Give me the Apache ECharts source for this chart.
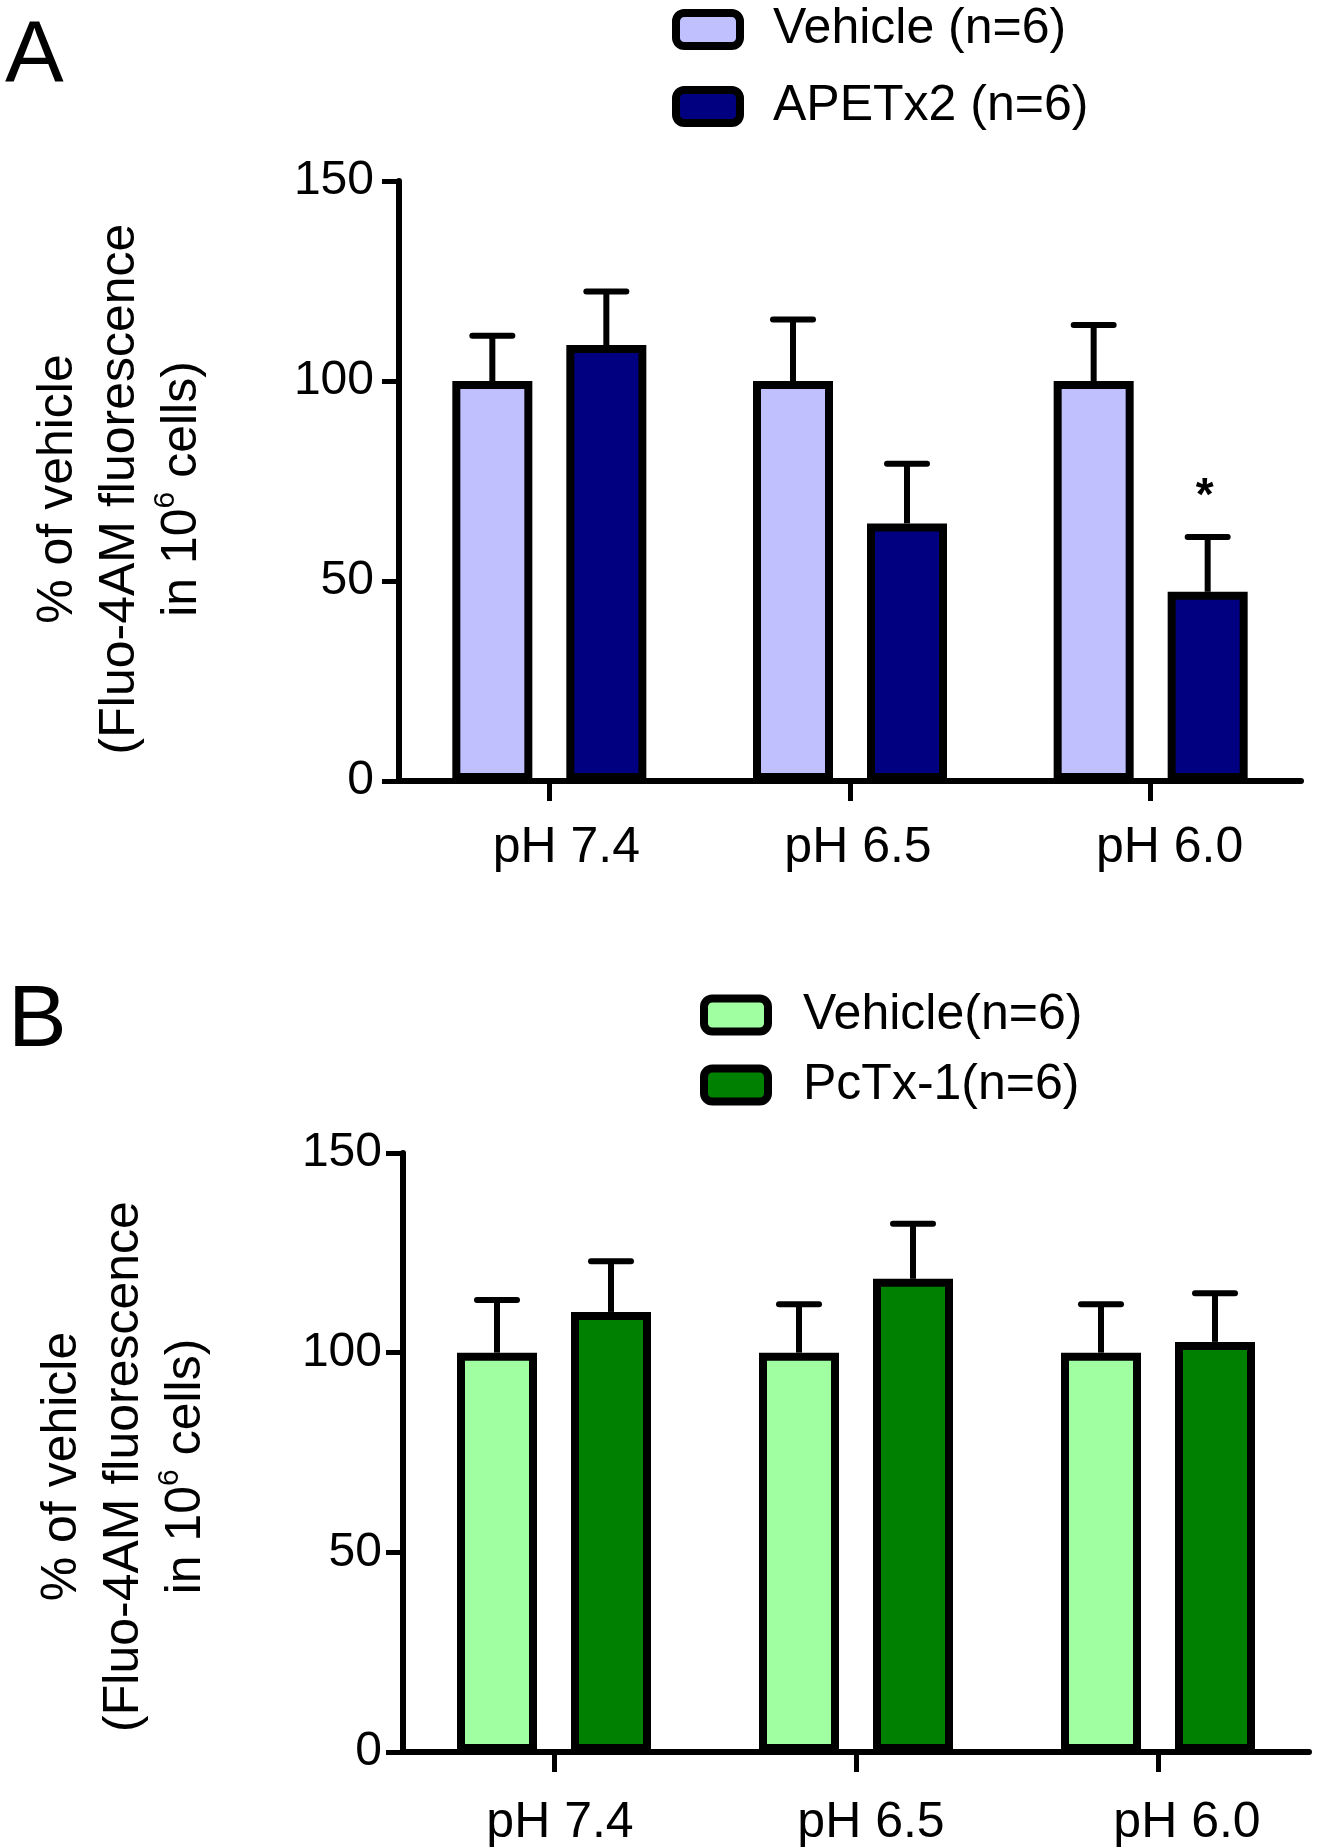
<!DOCTYPE html>
<html>
<head>
<meta charset="utf-8">
<script src="https://cdn.jsdelivr.net/npm/echarts@6/dist/echarts.min.js"></script>
<style>
html,body{margin:0;padding:0;background:#fff;}
#chart{width:1318px;height:1848px;}
</style>
</head>
<body>
<div id="chart"></div>
<script>
// ---------- data ----------
const categories = ['pH 7.4', 'pH 6.5', 'pH 6.0'];
const yTicks = [0, 50, 100, 150];

// Panel A
const aVehicleName = 'Vehicle (n=6)';
const aDrugName = 'APETx2 (n=6)';
const aVehicleMean = [100, 100, 100];
const aVehicleErr = [11.3, 15.4, 14.0];
const aDrugMean = [109.0, 64.4, 47.3];
const aDrugErr = [13.4, 14.9, 13.7];
const aDrugSig = ['', '', '*'];

// Panel B
const bVehicleName = 'Vehicle(n=6)';
const bDrugName = 'PcTx-1(n=6)';
const bVehicleMean = [100, 100, 100];
const bVehicleErr = [13.2, 12.1, 12.1];
const bDrugMean = [110.2, 118.5, 102.7];
const bDrugErr = [12.7, 13.8, 12.2];
const bDrugSig = ['', '', ''];

// ---------- styles ----------
const FONT = "'Liberation Sans', Arial, sans-serif";
const BAR_W = 80;
const BAR_GAP = 0.425;
const OFFSET = BAR_W * (1 + BAR_GAP) / 2;
const CAP_HALF = 20;
const LABEL_SHIFT_A = [17, 8, 19];   // px shift of tick labels (style)
const LABEL_SHIFT_B = [6, 15, 29];

const chart = echarts.init(document.getElementById('chart'), null, {renderer: 'canvas'});

function errorSeries(name, means, errs, sigs, side, gi) {
  return {
    type: 'custom',
    name: name + ' SEM',
    xAxisIndex: gi, yAxisIndex: gi,
    z: 1,
    silent: true,
    data: means.map((m, i) => [i, m, errs[i]]),
    renderItem: function (params, api) {
      const i = api.value(0), m = api.value(1), e = api.value(2);
      const base = api.coord([i, m]);
      const top = api.coord([i, m + e]);
      const x = base[0] + side * OFFSET;
      const children = [
        {type: 'line', shape: {x1: x, y1: base[1], x2: x, y2: top[1]},
         style: {stroke: '#000', lineWidth: 6}},
        {type: 'line', shape: {x1: x - CAP_HALF, y1: top[1], x2: x + CAP_HALF, y2: top[1]},
         style: {stroke: '#000', lineWidth: 6, lineCap: 'round'}}
      ];
      const s = sigs[params.dataIndex];
      if (s) {
        children.push({type: 'text', style: {text: s, x: x - 3, y: top[1] - 40,
          align: 'center', verticalAlign: 'middle', font: 'bold 46px ' + FONT, fill: '#000'}});
      }
      return {type: 'group', children: children};
    }
  };
}

function barSeries(name, means, color, gi) {
  return {
    type: 'bar', name: name, xAxisIndex: gi, yAxisIndex: gi,
    data: means, barWidth: BAR_W, barGap: (BAR_GAP * 100) + '%',
    z: 2,
    itemStyle: {color: color, borderColor: '#000', borderWidth: 8}
  };
}

function xAxisCfg(gi, margin, shifts) {
  return {
    type: 'category', gridIndex: gi,
    data: categories.map((c, i) => ({value: c, textStyle: {padding: [0, 0, 0, 2 * shifts[i]]}})),
    axisLine: {lineStyle: {color: '#000', width: 6}},
    axisTick: {show: true, alignWithLabel: true, length: 20, lineStyle: {color: '#000', width: 5}},
    axisLabel: {color: '#000', fontSize: 50, fontFamily: FONT, margin: margin}
  };
}

function yAxisCfg(gi, shiftDown, labelMargin) {
  return {
    type: 'value', gridIndex: gi, min: yTicks[0], max: yTicks[yTicks.length - 1],
    interval: yTicks[1] - yTicks[0],
    splitLine: {show: false},
    axisLine: {show: true, lineStyle: {color: '#000', width: 6}},
    axisTick: {show: true, length: 17, lineStyle: {color: '#000', width: 5}},
    axisLabel: {color: '#000', fontSize: 48, fontFamily: FONT, margin: labelMargin},
    name: '% of vehicle\n(Fluo-4AM fluorescence\nin 10{sup|6} cells)',
    nameLocation: 'middle', nameRotate: 90, nameGap: 186,
    nameTextStyle: {
      color: '#000', fontSize: 50, fontFamily: FONT, lineHeight: 62, align: 'center',
      padding: [0, 2 * shiftDown, 0, 0],
      rich: {sup: {fontSize: 30, fontFamily: FONT, color: '#000', lineHeight: 62, verticalAlign: 'top'}}
    }
  };
}

const option = {
  animation: false,
  backgroundColor: '#fff',
  grid: [
    {left: 399, top: 181, width: 902, height: 600, containLabel: false},
    {left: 403, top: 1153, width: 906, height: 601, containLabel: false}
  ],
  legend: [
    {data: [aVehicleName, aDrugName], orient: 'vertical', left: 672, top: 4.5, padding: 0,
     itemWidth: 64, itemHeight: 33, itemGap: 27,
     itemStyle: {borderColor: '#000', borderWidth: 8},
     textStyle: {fontSize: 50, fontFamily: FONT, color: '#000', lineHeight: 48, padding: [0, 0, 0, 28]}},
    {data: [bVehicleName, bDrugName], orient: 'vertical', left: 700, top: 990, padding: 0,
     itemWidth: 64, itemHeight: 33, itemGap: 20,
     itemStyle: {borderColor: '#000', borderWidth: 8},
     textStyle: {fontSize: 50, fontFamily: FONT, color: '#000', lineHeight: 48, padding: [0, 0, 0, 30]}}
  ],
  xAxis: [xAxisCfg(0, 42, LABEL_SHIFT_A), xAxisCfg(1, 46, LABEL_SHIFT_B)],
  yAxis: [yAxisCfg(0, 8, 25), yAxisCfg(1, 14, 21)],
  graphic: [
    {type: 'text', left: 5, top: 14, style: {text: 'A', font: '88px ' + FONT, fill: '#000'}},
    {type: 'text', left: 8, top: 978, style: {text: 'B', font: '88px ' + FONT, fill: '#000'}}
  ],
  series: [
    barSeries(aVehicleName, aVehicleMean, '#C0C0FF', 0),
    barSeries(aDrugName, aDrugMean, '#000080', 0),
    errorSeries(aVehicleName, aVehicleMean, aVehicleErr, ['', '', ''], -1, 0),
    errorSeries(aDrugName, aDrugMean, aDrugErr, aDrugSig, 1, 0),
    barSeries(bVehicleName, bVehicleMean, '#A0FFA0', 1),
    barSeries(bDrugName, bDrugMean, '#008000', 1),
    errorSeries(bVehicleName, bVehicleMean, bVehicleErr, bDrugSig.map(() => ''), -1, 1),
    errorSeries(bDrugName, bDrugMean, bDrugErr, bDrugSig, 1, 1)
  ]
};
chart.setOption(option);
</script>
</body>
</html>
